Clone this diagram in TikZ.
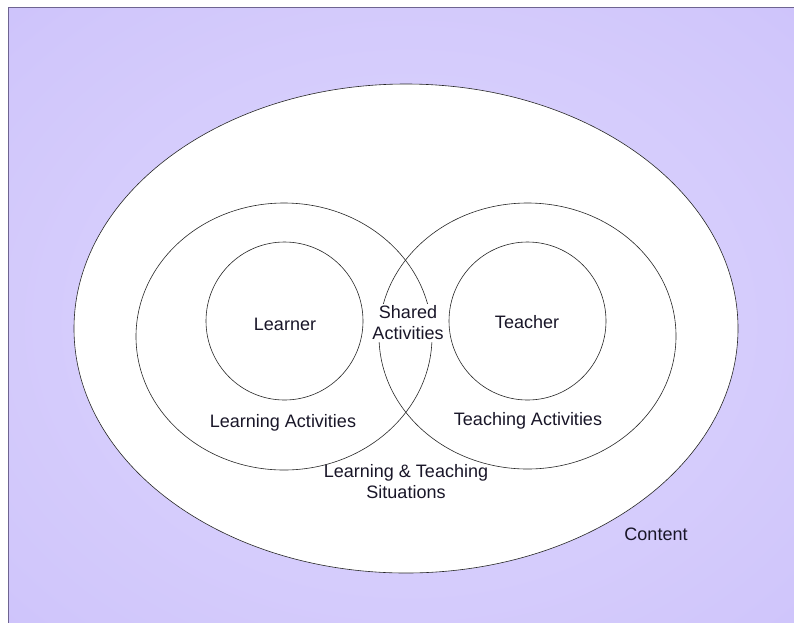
\documentclass[tikz,border=0pt]{standalone}
\usepackage{fontspec}
\setmainfont{Liberation Sans}
\usetikzlibrary{shapes.geometric}
\definecolor{lav}{RGB}{197,185,249}
\definecolor{lavmid}{RGB}{208,198,251}
\definecolor{lavlight}{RGB}{222,215,253}
\definecolor{framecol}{RGB}{110,100,145}
\definecolor{inkcol}{RGB}{25,22,40}
\pgfdeclareradialshading{bgshade}{\pgfpointorigin}{color(0bp)=(lavlight); color(32bp)=(lavmid); color(48bp)=(lav)}
\begin{document}
\begin{tikzpicture}[x=1pt,y=-1pt,
  ring/.style={ellipse, draw=black!85, line width=0.6pt, inner sep=0pt},
  lbl/.style={font=\fontsize{18}{21}\selectfont, text=inkcol, align=center, inner sep=1pt}]
\useasboundingbox (0,0) rectangle (794,622);
\fill[white] (0,0) rectangle (794,622);
\begin{scope}
  \clip (0,0) rectangle (794,622);
  \shade[shading=bgshade] (8,7) rectangle (810,640);
  \draw[framecol, line width=1pt] (810,7) -- (8,7) -- (8,640);
\end{scope}
% rings
\node[ring, fill=white, minimum width=664, minimum height=489] (content) at (406,328.5) {};
\node[ring, minimum width=296, minimum height=267] (lact) at (284,336.5) {};
\node[ring, minimum width=297, minimum height=266] (tact) at (527.5,336) {};
\node[ring, minimum width=157, minimum height=158] (lrn) at (284.5,321) {};
\node[ring, minimum width=157, minimum height=158] (tch) at (527.5,321) {};
% labels
\node[lbl, anchor=base] (learner) at (285,330) {Learner};
\node[lbl, anchor=base] (teacher) at (527,328) {Teacher};
\node[lbl, fill=white, inner sep=2pt] (shared) at (408,323) {Shared\\Activities};
\node[lbl, anchor=base] (lacttext) at (283,427) {Learning Activities};
\node[lbl, anchor=base] (tacttext) at (528,425) {Teaching Activities};
\node[lbl] (situ) at (406,482) {Learning \& Teaching\\Situations};
\node[lbl, anchor=base] (contenttext) at (656,540) {Content};
\end{tikzpicture}
\end{document}
